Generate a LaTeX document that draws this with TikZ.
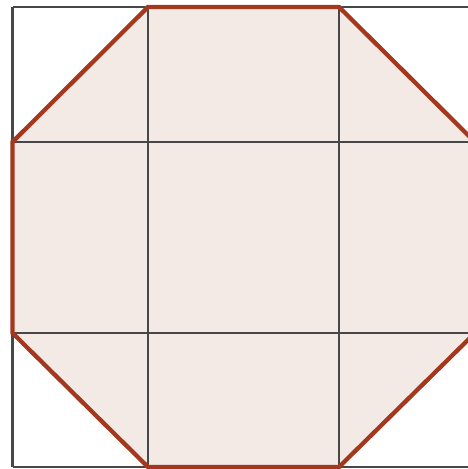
\documentclass[tikz,border=0pt]{standalone}
\begin{document}
\begin{tikzpicture}[x=1pt,y=1pt,
  gridline/.style={draw=gridgray,line width=2.1pt},
  octoutline/.style={draw=octred,line width=4.3pt,line join=miter},
  octfill/.style={fill=octpink}]
\definecolor{gridgray}{HTML}{474747}
\definecolor{octred}{HTML}{A3381F}
\definecolor{octpink}{HTML}{F3E9E5}
\useasboundingbox (0,0) rectangle (468,469);
\clip (0,0) rectangle (468,469);
% octagon vertices
\coordinate (A) at (148,462);
\coordinate (B) at (339,462);
\coordinate (C) at (475,327);
\coordinate (D) at (475,136);
\coordinate (E) at (339,2);
\coordinate (F) at (148,2);
\coordinate (G) at (12.5,136);
\coordinate (H) at (12.5,327);
\path[octfill] (A) -- (B) -- (C) -- (D) -- (E) -- (F) -- (G) -- (H) -- cycle;
% grid
\foreach \gx in {12.5,148,339,475} {\draw[gridline] (\gx,2) -- (\gx,462);}
\foreach \gy in {2,136,327,462} {\draw[gridline] (12.5,\gy) -- (475,\gy);}
\draw[octoutline] (A) -- (B) -- (C) -- (D) -- (E) -- (F) -- (G) -- (H) -- cycle;
\end{tikzpicture}
\end{document}
